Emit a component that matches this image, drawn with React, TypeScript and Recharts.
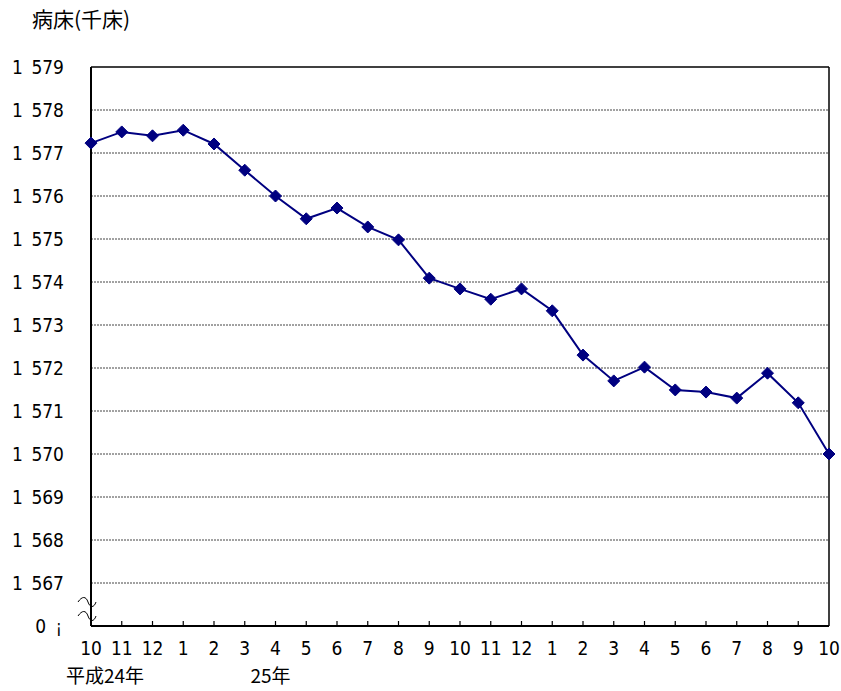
import React from 'react';
import { LineChart, Line, XAxis, YAxis, CartesianGrid, ReferenceLine } from 'recharts';

const months = ['10', '11', '12', '1', '2', '3', '4', '5', '6', '7', '8', '9', '10', '11', '12', '1', '2', '3', '4', '5', '6', '7', '8', '9', '10'];
const beds = [1577.23, 1577.49, 1577.40, 1577.53, 1577.21, 1576.60, 1576.00, 1575.47, 1575.72, 1575.28, 1574.98, 1574.09, 1573.84, 1573.60, 1573.84, 1573.33, 1572.30, 1571.70, 1572.02, 1571.49, 1571.44, 1571.30, 1571.88, 1571.19, 1570.00];
const yearLabels = ['平成24年', '', '', '', '', '', '25年', '', '', '', '', '', '', '', '', '', '', '', '', '', '', '', '', '', ''];
const yTicks = [1566, 1567, 1568, 1569, 1570, 1571, 1572, 1573, 1574, 1575, 1576, 1577, 1578, 1579];
const gridTicks = [1567, 1568, 1569, 1570, 1571, 1572, 1573, 1574, 1575, 1576, 1577, 1578];
const title = '病床(千床)';

const data = months.map((m, i) => ({ i, month: m, beds: beds[i], year: yearLabels[i] }));

const FONT = "'Liberation Sans Narrow', 'DejaVu Sans Condensed', 'Noto Sans CJK JP', sans-serif";
const CJK = "'Noto Sans CJK JP', sans-serif";

const XTick = (props: any) => {
  const { x, y, payload } = props;
  const idx = payload.value as number;
  const d = data[idx];
  return (
    <g>
      {idx > 0 && idx < data.length - 1 && <line x1={x} x2={x} y1={y} y2={y - 5} stroke="#000" strokeWidth={1.2} />}
      <text x={x} y={y + 29} textAnchor="middle" fontSize={19} fontFamily={FONT} fill="#000">{d ? d.month : ''}</text>
      {d && d.year && (
        <text x={x - 25} y={y + 57} textAnchor="start" fontSize={19} fontFamily={CJK} fill="#000">{d.year}</text>
      )}
    </g>
  );
};

const YTick = (props: any) => {
  const { x, y, payload } = props;
  const v = payload.value as number;
  if (v === 1566) {
    const wave = (yy: number) => `M ${x - 13} ${yy} C ${x - 9} ${yy - 6}, ${x - 5} ${yy - 6}, ${x - 3} ${yy} S ${x + 3} ${yy + 6}, ${x + 5} ${yy}`;
    return (
      <g>
        <text x={x - 45} y={y + 7} textAnchor="end" fontSize={19} fontFamily={FONT} fill="#000">0</text>
        <text x={x - 29} y={y + 7} textAnchor="end" fontSize={17} fontFamily={FONT} fill="#000">¡</text>
        <path d={wave(y - 24)} fill="none" stroke="#000" strokeWidth={1} />
        <path d={wave(y - 10)} fill="none" stroke="#000" strokeWidth={1} />
      </g>
    );
  }
  const s = String(v);
  return (
    <g>
      <text x={x - 79} y={y + 7} textAnchor="start" fontSize={19} fontFamily={FONT} fill="#000">{s.slice(0, 1)}</text>
      <text x={x - 27} y={y + 7} textAnchor="end" fontSize={19} fontFamily={FONT} fill="#000">{s.slice(1)}</text>
    </g>
  );
};

const Diamond = (props: any) => {
  const { cx, cy } = props;
  if (cx == null || cy == null) return null;
  const r = 6;
  return <polygon points={`${cx},${cy - r} ${cx + r},${cy} ${cx},${cy + r} ${cx - r},${cy}`} fill="#000080" stroke="#000080" strokeWidth={1} />;
};

export default function App() {
  return (
    <div style={{ position: 'absolute', left: 0, top: 0, width: 841, height: 691, background: '#fff' }}>
      <div style={{ position: 'absolute', left: 32, top: 3, fontFamily: CJK, fontSize: 21, color: '#000', whiteSpace: 'nowrap' }}>{title}</div>
      <LineChart width={841} height={691} data={data} margin={{ top: 67, right: 12, bottom: 0, left: 0 }}>
        <CartesianGrid vertical={false} horizontalValues={gridTicks} stroke="#444" strokeDasharray="2 1" strokeWidth={1} />
        <XAxis
          dataKey="i"
          type="number"
          domain={[0, data.length - 1]}
          ticks={data.map((d) => d.i)}
          interval={0}
          height={65}
          tickSize={0}
          tickMargin={0}
          tickLine={false}
          axisLine={{ stroke: '#000', strokeWidth: 2 }}
          tick={<XTick />}
        />
        <YAxis
          type="number"
          domain={[1566, 1579]}
          ticks={yTicks}
          interval={0}
          width={91}
          tickSize={0}
          tickMargin={0}
          tickLine={false}
          axisLine={{ stroke: '#000', strokeWidth: 2 }}
          tick={<YTick />}
        />
        <ReferenceLine y={1579} stroke="#000" strokeWidth={1.5} />
        <ReferenceLine x={data.length - 1} stroke="#000" strokeWidth={1.5} />
        <Line
          type="linear"
          dataKey="beds"
          stroke="#000080"
          strokeWidth={2}
          dot={<Diamond />}
          activeDot={false}
          isAnimationActive={false}
        />
      </LineChart>
    </div>
  );
}
